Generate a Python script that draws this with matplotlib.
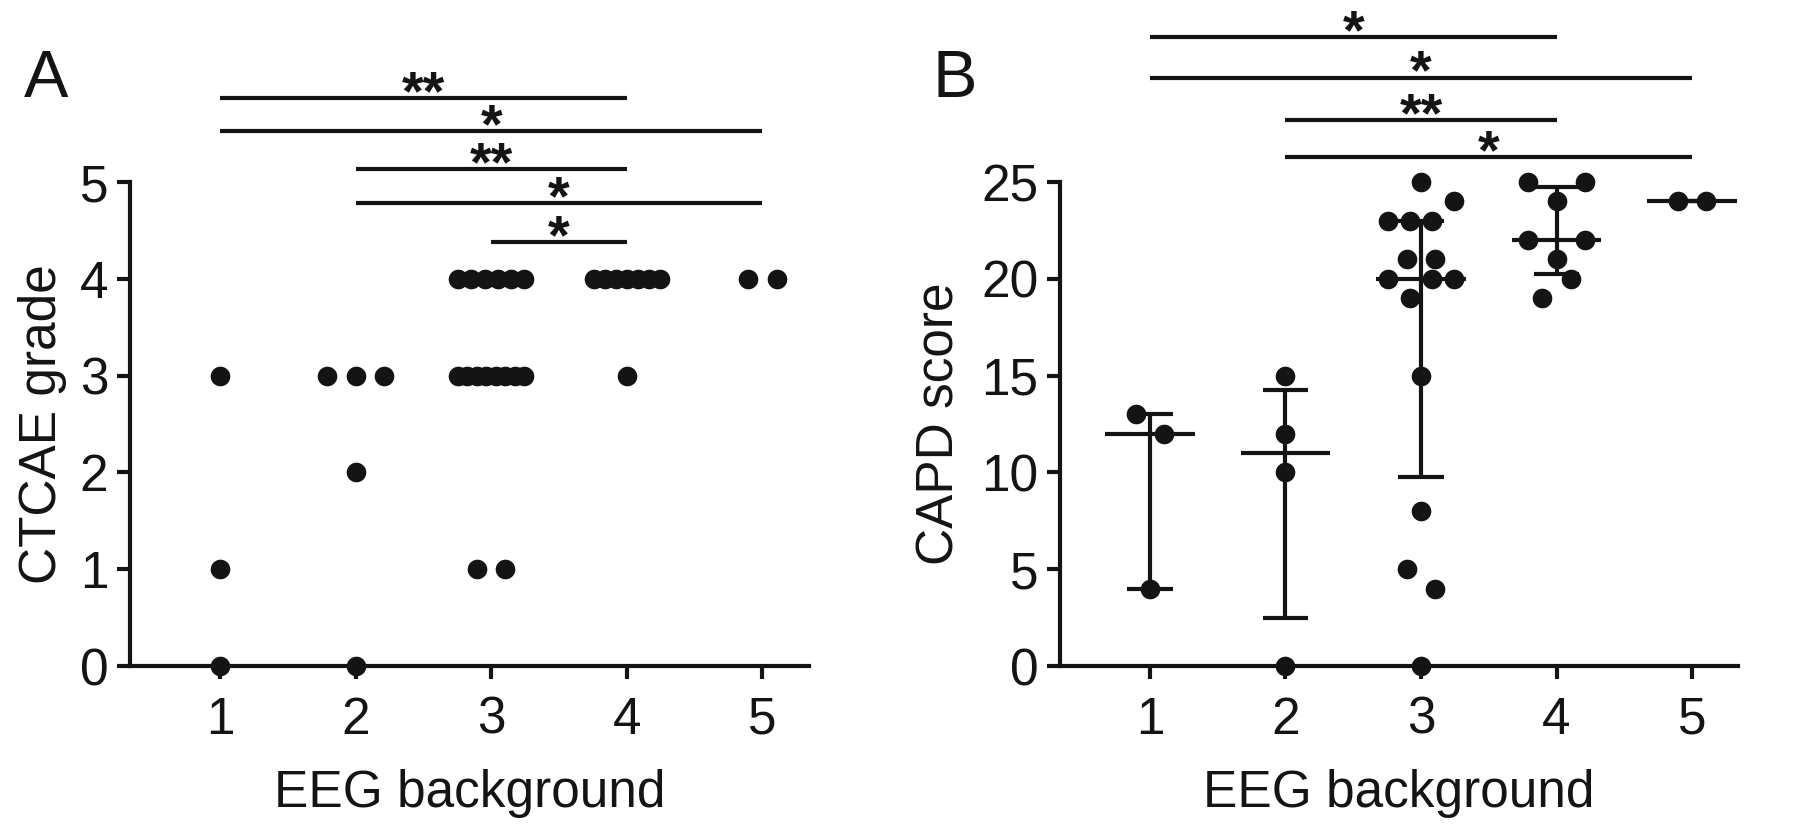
import numpy as np
import matplotlib.pyplot as plt

plt.rcParams['font.family'] = ['Liberation Sans', 'DejaVu Sans']

# EEG background groups
groups = [1, 2, 3, 4, 5]
tick_labels = ['1', '2', '3', '4', '5']

# panel A: CTCAE grade per patient
ctcae_g1 = [3, 1, 0]
ctcae_g2 = [3, 3, 3, 2, 0]
ctcae_g3 = [4, 4, 4, 4, 4, 4, 3, 3, 3, 3, 3, 3, 3, 3, 1, 1]
ctcae_g4 = [4, 4, 4, 4, 4, 4, 4, 3]
ctcae_g5 = [4, 4]

# panel B: CAPD score per patient
capd_g1 = [13, 12, 4]
capd_g2 = [15, 12, 10, 0]
capd_g3 = [25, 23, 23, 23, 24, 21, 21, 20, 19, 20, 20, 15, 8, 5, 4, 0]
capd_g4 = [25, 24, 25, 22, 21, 22, 19, 20]
capd_g5 = [24, 24]

# significance bars (group from, group to, label) and their heights
sig_a = [(1, 4, '**'), (1, 5, '*'), (2, 4, '**'), (2, 5, '*'), (3, 4, '*')]
sig_a_y = [5.87, 5.53, 5.13, 4.78, 4.38]
sig_b = [(1, 4, '*'), (1, 5, '*'), (2, 4, '**'), (2, 5, '*')]
sig_b_y = [32.5, 30.4, 28.2, 26.3]

ctcae = [ctcae_g1, ctcae_g2, ctcae_g3, ctcae_g4, ctcae_g5]
capd = [capd_g1, capd_g2, capd_g3, capd_g4, capd_g5]

ink = '#141414'
LW = 3
FS = 37


def spread(vals, tol, step=0.21, span=0.49):
    # rows of points with close values get spread sideways (like prism)
    vals = np.asarray(vals, float)
    order = np.argsort(vals, kind='stable')
    rows = []
    for i in order:
        if rows and vals[i] - vals[rows[-1][0]] <= tol:
            rows[-1].append(i)
        else:
            rows.append([i])
    off = np.zeros(len(vals))
    for r in rows:
        r = sorted(r)
        n = len(r)
        if n > 1:
            d = min(step, span / (n - 1))
            off[r] = (np.arange(n) - (n - 1) / 2) * d
    return off


def style(ax, ymax, ystep):
    for s in ['top', 'right']:
        ax.spines[s].set_visible(False)
    for s in ['left', 'bottom']:
        ax.spines[s].set_linewidth(LW)
        ax.spines[s].set_color(ink)
    ax.set_xlim(0.336, 5.34)
    ax.set_ylim(0, ymax)
    ax.set_xticks(groups)
    ax.set_xticklabels(tick_labels)
    ax.set_yticks(np.arange(0, ymax + 1, ystep))
    ax.tick_params(length=9.5, width=LW, color=ink, labelsize=FS, labelcolor=ink)
    ax.tick_params(axis='x', pad=12)
    ax.tick_params(axis='y', pad=6)
    ax.set_xlabel('EEG background', fontsize=FS, labelpad=17, color=ink)


def sigbars(ax, bars, ys):
    for (a, b, lab), y in zip(bars, ys):
        ax.plot([a, b], [y, y], color=ink, lw=LW, clip_on=False, solid_capstyle='butt')
        ax.annotate(lab, xy=((a + b) / 2, y), xytext=(0, -8), textcoords='offset points',
                    ha='center', va='baseline', fontsize=40, fontweight='bold',
                    color=ink, annotation_clip=False)


fig = plt.figure(figsize=(18, 8.34), dpi=100)
axA = fig.add_axes([0.0722, 0.2014, 0.377, 0.5803])
axB = fig.add_axes([0.5889, 0.2014, 0.3767, 0.5803])

# A
style(axA, 5, 1)
for g, vals in zip(groups, ctcae):
    x = g + spread(vals, 0.2)
    axA.scatter(x, vals, s=200, color=ink, linewidths=0, clip_on=False, zorder=3)
axA.set_ylabel('CTCAE grade', fontsize=FS, labelpad=9, color=ink)
sigbars(axA, sig_a, sig_a_y)

# B
style(axB, 25, 5)
for g, vals in zip(groups, capd):
    x = g + spread(vals, 1.0)
    axB.scatter(x, vals, s=200, color=ink, linewidths=0, clip_on=False, zorder=3)
    q1, med, q3 = np.percentile(vals, [25, 50, 75], method='weibull')
    axB.hlines(med, g - 0.33, g + 0.33, color=ink, lw=LW, zorder=2)
    axB.vlines(g, q1, q3, color=ink, lw=LW, zorder=2)
    axB.hlines([q1, q3], g - 0.167, g + 0.167, color=ink, lw=LW, zorder=2)
axB.set_ylabel('CAPD score', fontsize=FS, labelpad=12, color=ink)
sigbars(axB, sig_b, sig_b_y)

fig.text(46 / 1800, 1 - 80 / 834, 'A', fontsize=48, ha='center', va='center', color=ink)
fig.text(955 / 1800, 1 - 80 / 834, 'B', fontsize=48, ha='center', va='center', color=ink)

fig.savefig('out.png', dpi=100, facecolor='white')
